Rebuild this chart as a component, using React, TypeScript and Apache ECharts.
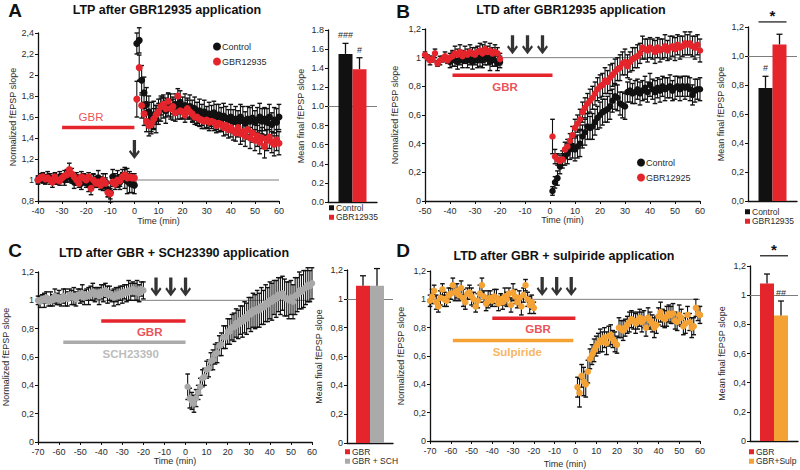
import React, { useEffect, useRef } from "react";
import * as echarts from "echarts";

const minutes = (from: number, to: number): number[] =>
  Array.from({ length: to - from + 1 }, (_, i) => from + i);

// ---------------- Panel A : LTP ----------------
const timesA = minutes(-40, 60);
const ctrlABase = [
  1.00, 1.01, 1.02, 1.00, 1.03, 1.02, 0.99, 1.01, 1.00, 1.03,
  1.02, 1.00, 1.04, 1.03, 1.01, 0.98, 1.02, 1.00, 0.97, 1.01,
  0.99, 0.96, 0.97, 1.00, 0.98, 1.02, 0.97, 0.95, 0.98, 0.91,
  0.88, 1.03, 1.00, 1.01, 0.98, 1.04, 1.02, 0.99, 0.97, 0.96,
  0.95,
];
const ctrlAPost = [
  2.30, 2.33, 1.95, 1.83, 1.72, 1.65, 1.60, 1.62, 1.58, 1.65,
  1.68, 1.70, 1.66, 1.72, 1.70, 1.68, 1.72, 1.70, 1.74, 1.69,
  1.71, 1.68, 1.70, 1.66, 1.68, 1.64, 1.66, 1.62, 1.65, 1.60,
  1.63, 1.61, 1.64, 1.60, 1.62, 1.58, 1.61, 1.59, 1.57, 1.60,
  1.56, 1.58, 1.55, 1.60, 1.57, 1.54, 1.58, 1.56, 1.59, 1.55,
  1.57, 1.60, 1.56, 1.58, 1.55, 1.60, 1.53, 1.57, 1.55, 1.60,
];
const ctrlAErrBase = [
  0.04, 0.03, 0.05, 0.04, 0.05, 0.04, 0.03, 0.05, 0.04, 0.05,
  0.04, 0.05, 0.06, 0.05, 0.04, 0.06, 0.05, 0.04, 0.06, 0.05,
  0.06, 0.07, 0.05, 0.06, 0.05, 0.07, 0.06, 0.05, 0.08, 0.07,
  0.09, 0.07, 0.06, 0.08, 0.07, 0.06, 0.10, 0.12, 0.09, 0.08,
  0.08,
];
const ctrlAErrPost = [
  0.10, 0.12, 0.14, 0.15, 0.16, 0.15, 0.14, 0.13, 0.13, 0.12,
  0.12, 0.11, 0.12, 0.11, 0.12, 0.11, 0.10, 0.12, 0.11, 0.10,
  0.11, 0.10, 0.11, 0.10, 0.11, 0.10, 0.11, 0.10, 0.11, 0.10,
  0.11, 0.10, 0.11, 0.12, 0.10, 0.11, 0.12, 0.11, 0.10, 0.12,
  0.11, 0.12, 0.11, 0.12, 0.13, 0.11, 0.12, 0.13, 0.12, 0.11,
  0.12, 0.13, 0.12, 0.11, 0.13, 0.12, 0.11, 0.12, 0.13, 0.12,
];
const gbrABase = [
  1.00, 1.02, 1.03, 1.01, 1.02, 1.00, 0.98, 1.03, 1.00, 0.99,
  1.02, 1.04, 1.05, 1.10, 1.06, 1.03, 1.00, 0.97, 1.03, 1.02,
  1.00, 1.03, 0.92, 1.00, 0.97, 0.98, 0.95, 1.00, 0.97, 0.88,
  0.87, 0.98, 0.96, 1.00, 0.99, 1.03, 1.05, 1.02, 1.03, 1.02,
  1.02,
];
const gbrAPost = [
  1.77, 2.07, 1.71, 1.63, 1.56, 1.52, 1.53, 1.58, 1.62, 1.65,
  1.70, 1.72, 1.68, 1.75, 1.68, 1.70, 1.64, 1.80, 1.66, 1.65,
  1.62, 1.68, 1.65, 1.63, 1.60, 1.60, 1.58, 1.57, 1.56, 1.57,
  1.55, 1.56, 1.55, 1.52, 1.54, 1.53, 1.50, 1.52, 1.48, 1.50,
  1.47, 1.45, 1.50, 1.44, 1.46, 1.42, 1.48, 1.40, 1.45, 1.38,
  1.42, 1.36, 1.40, 1.32, 1.38, 1.41, 1.36, 1.34, 1.38, 1.35,
];
const gbrAErrBase = [
  0.03, 0.04, 0.03, 0.04, 0.03, 0.04, 0.05, 0.04, 0.03, 0.04,
  0.04, 0.05, 0.04, 0.06, 0.05, 0.04, 0.05, 0.04, 0.05, 0.04,
  0.05, 0.04, 0.06, 0.05, 0.04, 0.05, 0.04, 0.06, 0.05, 0.04,
  0.05, 0.04, 0.05, 0.04, 0.05, 0.04, 0.05, 0.04, 0.05, 0.04,
  0.04,
];
const gbrAErrPost = [
  0.17, 0.12, 0.12, 0.11, 0.10, 0.10, 0.09, 0.10, 0.09, 0.08,
  0.08, 0.07, 0.08, 0.07, 0.08, 0.07, 0.08, 0.07, 0.08, 0.07,
  0.07, 0.08, 0.07, 0.08, 0.07, 0.08, 0.07, 0.08, 0.07, 0.08,
  0.08, 0.07, 0.08, 0.07, 0.08, 0.07, 0.08, 0.09, 0.08, 0.09,
  0.09, 0.08, 0.09, 0.10, 0.09, 0.10, 0.09, 0.10, 0.09, 0.10,
  0.10, 0.11, 0.10, 0.11, 0.10, 0.11, 0.10, 0.11, 0.10, 0.11,
];
const refSpanA = [0, 60];
const drugA = { from: -30, to: 0, level: 1.5, labelAt: [-18, 1.6] };
const arrowsA = [0];
const arrowLevelA = 1.29;

// ---------------- Panel B : LTD ----------------
const timesBRed = [...minutes(-50, -20), ...minutes(1, 60)];
const timesBCtrl = [...minutes(-40, -20), ...minutes(1, 60)];
const gbrBBase = [
  1.02, 1.00, 0.98, 0.99, 1.03, 0.96, 0.98, 0.99, 1.01, 0.98,
  1.00, 1.01, 1.03, 1.02, 1.04, 1.01, 1.03, 1.02, 1.04, 1.03,
  1.02, 1.04, 1.05, 1.03, 1.06, 1.04, 1.05, 1.03, 1.04, 1.03,
  0.99,
];
const gbrBPost = [
  0.45, 0.31, 0.29, 0.28, 0.29, 0.36, 0.38, 0.42, 0.46, 0.51,
  0.54, 0.57, 0.62, 0.65, 0.68, 0.70, 0.72, 0.75, 0.78, 0.80,
  0.81, 0.84, 0.83, 0.86, 0.88, 0.90, 0.92, 0.93, 0.96, 0.97,
  0.94, 0.97, 0.99, 1.00, 1.01, 1.03, 1.07, 1.06, 1.05, 1.07,
  1.06, 1.04, 1.07, 1.05, 1.06, 1.08, 1.05, 1.07, 1.08, 1.06,
  1.09, 1.07, 1.08, 1.10, 1.09, 1.10, 1.08, 1.07, 1.09, 1.05,
];
const gbrBErrBase = [
  0.02, 0.02, 0.03, 0.02, 0.03, 0.02, 0.03, 0.02, 0.03, 0.02,
  0.03, 0.04, 0.05, 0.04, 0.05, 0.04, 0.05, 0.04, 0.05, 0.04,
  0.05, 0.04, 0.05, 0.06, 0.05, 0.04, 0.05, 0.04, 0.05, 0.04,
  0.04,
];
const gbrBErrPost = [
  0.12, 0.05, 0.04, 0.04, 0.04, 0.05, 0.05, 0.05, 0.06, 0.06,
  0.06, 0.07, 0.07, 0.07, 0.07, 0.08, 0.08, 0.08, 0.08, 0.08,
  0.08, 0.09, 0.08, 0.09, 0.08, 0.09, 0.08, 0.09, 0.08, 0.09,
  0.08, 0.07, 0.08, 0.07, 0.08, 0.07, 0.08, 0.07, 0.08, 0.07,
  0.07, 0.08, 0.07, 0.08, 0.07, 0.08, 0.07, 0.08, 0.07, 0.08,
  0.07, 0.08, 0.07, 0.08, 0.07, 0.08, 0.07, 0.08, 0.07, 0.08,
];
const ctrlBBase = [
  0.97, 0.99, 0.98, 0.97, 0.99, 0.98, 1.00, 0.98, 0.99, 0.97,
  0.99, 0.98, 1.00, 0.98, 0.99, 1.00, 0.97, 0.99, 0.98, 0.96,
  0.97,
];
const ctrlBPost = [
  0.07, 0.13, 0.16, 0.24, 0.29, 0.31, 0.33, 0.36, 0.38, 0.36,
  0.38, 0.40, 0.45, 0.48, 0.52, 0.51, 0.52, 0.55, 0.58, 0.60,
  0.62, 0.63, 0.64, 0.66, 0.70, 0.73, 0.72, 0.68, 0.67, 0.66,
  0.76, 0.77, 0.75, 0.76, 0.78, 0.75, 0.77, 0.79, 0.76, 0.81,
  0.78, 0.76, 0.79, 0.77, 0.80, 0.78, 0.79, 0.80, 0.77, 0.79,
  0.80, 0.78, 0.80, 0.79, 0.80, 0.78, 0.74, 0.77, 0.78, 0.78,
];
const ctrlBErrBase = [
  0.04, 0.05, 0.04, 0.05, 0.04, 0.05, 0.04, 0.05, 0.04, 0.05,
  0.04, 0.05, 0.06, 0.05, 0.04, 0.05, 0.06, 0.05, 0.04, 0.05,
  0.04,
];
const ctrlBErrPost = [
  0.03, 0.04, 0.05, 0.05, 0.06, 0.06, 0.07, 0.07, 0.08, 0.08,
  0.08, 0.09, 0.08, 0.09, 0.09, 0.08, 0.09, 0.09, 0.08, 0.09,
  0.09, 0.08, 0.09, 0.09, 0.08, 0.09, 0.09, 0.08, 0.09, 0.09,
  0.07, 0.08, 0.07, 0.08, 0.07, 0.08, 0.07, 0.08, 0.07, 0.08,
  0.07, 0.08, 0.07, 0.08, 0.07, 0.08, 0.07, 0.08, 0.07, 0.08,
  0.07, 0.08, 0.07, 0.08, 0.07, 0.08, 0.07, 0.08, 0.07, 0.08,
];
const refSpanB = [-20, 60];
const drugB = { from: -39, to: 1, level: 0.877, labelAt: [-18, 0.795] };
const arrowsB = [-15, -9, -3];
const arrowLevelB = 1.09;

// ---------------- Panel C : GBR + SCH23390 ----------------
const timesC = [...minutes(-70, -20), ...minutes(1, 60)];
const schCBase = [
  1.00, 0.99, 1.01, 1.00, 1.02, 0.99, 1.01, 1.00, 1.03, 1.01,
  1.02, 1.00, 1.03, 1.02, 1.01, 1.04, 1.02, 1.03, 1.01, 1.04,
  1.03, 1.05, 1.02, 1.04, 1.03, 1.05, 1.06, 1.04, 1.05, 1.03,
  1.06, 1.05, 1.07, 1.04, 1.05, 1.03, 1.02, 1.04, 1.03, 1.05,
  1.04, 1.06, 1.05, 1.07, 1.06, 1.08, 1.06, 1.07, 1.05, 1.08,
  1.07,
];
const schCPost = [
  0.39, 0.31, 0.29, 0.27, 0.31, 0.35, 0.39, 0.45, 0.46, 0.51,
  0.52, 0.57, 0.58, 0.62, 0.63, 0.68, 0.69, 0.74, 0.74, 0.78,
  0.78, 0.81, 0.81, 0.84, 0.83, 0.86, 0.85, 0.88, 0.87, 0.91,
  0.90, 0.93, 0.92, 0.94, 0.93, 0.96, 0.95, 0.98, 0.97, 1.00,
  0.99, 1.02, 1.01, 1.04, 1.03, 1.05, 1.02, 1.01, 1.00, 1.02,
  0.99, 1.03, 1.04, 1.07, 1.06, 1.08, 1.09, 1.11, 1.10, 1.12,
];
const schCErrBase = [
  0.03, 0.04, 0.03, 0.05, 0.04, 0.03, 0.05, 0.04, 0.05, 0.04,
  0.05, 0.04, 0.05, 0.06, 0.05, 0.04, 0.05, 0.06, 0.05, 0.04,
  0.05, 0.06, 0.05, 0.04, 0.06, 0.05, 0.06, 0.05, 0.04, 0.06,
  0.05, 0.06, 0.05, 0.06, 0.05, 0.04, 0.06, 0.05, 0.06, 0.05,
  0.06, 0.05, 0.06, 0.07, 0.06, 0.05, 0.06, 0.07, 0.06, 0.05,
  0.06,
];
const schCErrPost = [
  0.09, 0.07, 0.06, 0.06, 0.06, 0.05, 0.06, 0.06, 0.06, 0.06,
  0.06, 0.06, 0.07, 0.07, 0.07, 0.07, 0.08, 0.08, 0.08, 0.09,
  0.09, 0.09, 0.10, 0.10, 0.10, 0.10, 0.11, 0.11, 0.11, 0.11,
  0.12, 0.12, 0.12, 0.13, 0.12, 0.13, 0.12, 0.13, 0.12, 0.13,
  0.13, 0.12, 0.13, 0.12, 0.13, 0.12, 0.13, 0.12, 0.13, 0.12,
  0.12, 0.13, 0.12, 0.13, 0.12, 0.13, 0.12, 0.12, 0.11, 0.11,
];
const refSpanC = [-70, 60];
const drugC1 = { from: -40, to: 0, level: 0.855, labelAt: [-17, 0.78] };
const drugC2 = { from: -58, to: 0, level: 0.705, labelAt: [-26, 0.62] };
const arrowsC = [-14, -7, 0];
const arrowLevelC = 1.095;

// ---------------- Panel D : GBR + sulpiride ----------------
const timesD = [...minutes(-70, -20), ...minutes(1, 60)];
const sulDBase = [
  0.99, 1.02, 1.06, 0.98, 0.95, 1.01, 1.07, 1.00, 0.99, 1.03,
  1.04, 1.10, 1.05, 1.06, 1.03, 1.08, 1.01, 0.98, 1.04, 1.05,
  1.02, 1.00, 0.95, 0.99, 1.04, 1.10, 1.02, 0.97, 1.00, 1.01,
  0.99, 1.02, 1.01, 0.97, 1.00, 0.98, 1.02, 1.00, 1.04, 0.96,
  1.05, 1.02, 0.98, 1.01, 0.95, 1.03, 1.10, 1.00, 0.96, 0.98,
  0.94,
];
const sulDPost = [
  0.38, 0.34, 0.46, 0.42, 0.40, 0.49, 0.58, 0.61, 0.64, 0.67,
  0.69, 0.71, 0.70, 0.73, 0.69, 0.74, 0.75, 0.72, 0.70, 0.68,
  0.80, 0.79, 0.78, 0.80, 0.82, 0.84, 0.86, 0.85, 0.83, 0.85,
  0.87, 0.84, 0.86, 0.80, 0.87, 0.85, 0.83, 0.80, 0.82, 0.88,
  0.91, 0.87, 0.86, 0.88, 0.90, 0.89, 0.90, 0.85, 0.84, 0.89,
  0.87, 0.81, 0.83, 0.89, 0.84, 0.80, 0.81, 0.94, 0.90, 0.89,
];
const sulDErrBase = [
  0.04, 0.05, 0.04, 0.05, 0.04, 0.05, 0.04, 0.05, 0.04, 0.05,
  0.04, 0.05, 0.06, 0.05, 0.04, 0.05, 0.06, 0.05, 0.04, 0.05,
  0.06, 0.05, 0.04, 0.05, 0.06, 0.05, 0.04, 0.05, 0.06, 0.05,
  0.04, 0.05, 0.06, 0.05, 0.04, 0.05, 0.06, 0.05, 0.04, 0.05,
  0.06, 0.05, 0.04, 0.05, 0.06, 0.05, 0.04, 0.05, 0.06, 0.05,
  0.04,
];
const sulDErrPost = [
  0.07, 0.10, 0.08, 0.10, 0.09, 0.08, 0.07, 0.07, 0.08, 0.07,
  0.07, 0.08, 0.07, 0.07, 0.08, 0.07, 0.07, 0.06, 0.07, 0.06,
  0.07, 0.06, 0.07, 0.06, 0.06, 0.07, 0.06, 0.06, 0.07, 0.06,
  0.06, 0.07, 0.06, 0.06, 0.07, 0.06, 0.06, 0.07, 0.06, 0.06,
  0.07, 0.06, 0.06, 0.07, 0.06, 0.06, 0.07, 0.06, 0.06, 0.07,
  0.06, 0.06, 0.07, 0.06, 0.06, 0.07, 0.06, 0.06, 0.05, 0.06,
];
const refSpanD = [-70, 60];
const drugD1 = { from: -40, to: 0, level: 0.866, labelAt: [-18, 0.79] };
const drugD2 = { from: -59, to: -1, level: 0.71, labelAt: [-28, 0.63] };
const arrowsD = [-16, -9, -2];
const arrowLevelD = 1.09;

// ---------------- Bar summaries ----------------
const barNamesA = ["Control", "GBR12935"];
const barMeansA = [1.55, 1.39];
const barErrA = [0.11, 0.12];
const barSigA = ["###", "#"];

const barNamesB = ["Control", "GBR12935"];
const barMeansB = [0.78, 1.08];
const barErrB = [0.08, 0.07];
const barSigB = ["#", ""];

const barNamesC = ["GBR", "GBR + SCH"];
const barMeansC = [1.09, 1.09];
const barErrC = [0.07, 0.12];
const barSigC = ["", ""];

const barNamesD = ["GBR", "GBR+Sulp"];
const barMeansD = [1.08, 0.86];
const barErrD = [0.065, 0.1];
const barSigD = ["", "##"];

// ---------------- styling ----------------
const FONT = '"Liberation Sans", Arial, Helvetica, sans-serif';
const INK = "#111111";
const TXT = "#2b2b2b";
const RED = "#e4252c";
const ORANGE = "#f5a234";
const GREY_DOT = "#a8a8a8";
const GREY_BAR = "#aaaaaa";
const REF = "#7d7d7d";
const ARROW =
  "path://M3.5,0H6.5V11.2L8.6,8.4L10,9.8L5,16L0,9.8L1.4,8.4L3.5,11.2Z";

const commaTrim = (v: number) => String(Math.round(v * 10) / 10).replace(".", ",");
const dotFixed = (v: number) => v.toFixed(1);
const commaFixed = (v: number) => v.toFixed(1).replace(".", ",");

const grids = [
  { left: 38, top: 33, width: 241, height: 168 },
  { left: 328, top: 30, width: 49, height: 172 },
  { left: 425, top: 29, width: 275, height: 172 },
  { left: 748, top: 27, width: 49, height: 174 },
  { left: 38, top: 272, width: 274, height: 170 },
  { left: 347, top: 270, width: 46, height: 173 },
  { left: 430, top: 271, width: 270, height: 170 },
  { left: 750, top: 266, width: 48, height: 175 },
];

const axisLine = { show: true, onZero: false, lineStyle: { color: INK, width: 1.3 } };
const axisTick = { show: true, length: 3, lineStyle: { color: INK, width: 1 } };
const labelStyle = { fontSize: 9, color: TXT, fontFamily: FONT };

const timeAxis = (gi: number, min: number, max: number, nameGap: number) => ({
  type: "value",
  gridIndex: gi,
  min,
  max,
  interval: 10,
  axisLine,
  axisTick,
  axisLabel: { ...labelStyle, margin: 5 },
  splitLine: { show: false },
  name: "Time (min)",
  nameLocation: "middle",
  nameGap,
  nameTextStyle: labelStyle,
});

const catAxis = (gi: number) => ({
  type: "category",
  gridIndex: gi,
  data: [""],
  axisLine,
  axisTick: { show: false },
  axisLabel: { show: false },
});

const valAxis = (
  gi: number,
  min: number,
  max: number,
  formatter: (v: number) => string,
  name: string,
  nameGap: number
) => ({
  type: "value",
  gridIndex: gi,
  min,
  max,
  interval: 0.2,
  axisLine,
  axisTick,
  axisLabel: { ...labelStyle, margin: 4, formatter },
  splitLine: { show: false },
  name,
  nameLocation: "middle",
  nameGap,
  nameTextStyle: labelStyle,
});

const pairs = (times: number[], vals: number[]) => times.map((t, i) => [t, vals[i]]);

const dots = (gi: number, name: string, times: number[], vals: number[], color: string, size = 6.5) => ({
  type: "scatter",
  name,
  xAxisIndex: gi,
  yAxisIndex: gi,
  symbolSize: size,
  itemStyle: { color, opacity: 1 },
  data: pairs(times, vals),
  silent: true,
  z: 4,
});

const errBars = (gi: number, times: number[], vals: number[], errs: number[]) => ({
  type: "custom",
  xAxisIndex: gi,
  yAxisIndex: gi,
  silent: true,
  z: 3,
  data: times.map((t, i) => [t, vals[i], errs[i]]),
  renderItem: (_p: any, api: any) => {
    const x = api.value(0);
    const v = api.value(1);
    const e = api.value(2);
    const a = api.coord([x, v + e]);
    const b = api.coord([x, v - e]);
    const c = 2.3;
    const st = { stroke: INK, lineWidth: 1.1 };
    return {
      type: "group",
      children: [
        { type: "line", shape: { x1: a[0], y1: a[1], x2: b[0], y2: b[1] }, style: st },
        { type: "line", shape: { x1: a[0] - c, y1: a[1], x2: a[0] + c, y2: a[1] }, style: { ...st, lineWidth: 1.4 } },
        { type: "line", shape: { x1: b[0] - c, y1: b[1], x2: b[0] + c, y2: b[1] }, style: { ...st, lineWidth: 1.4 } },
      ],
    };
  },
});

const refLine = (gi: number, span: number[]) => ({
  type: "line",
  xAxisIndex: gi,
  yAxisIndex: gi,
  data: [
    [span[0], 1],
    [span[1], 1],
  ],
  symbol: "none",
  silent: true,
  lineStyle: { color: REF, width: 1 },
  z: 1,
});

const drugBar = (gi: number, d: any, color: string, text: string, bold: boolean) => [
  {
    type: "line",
    xAxisIndex: gi,
    yAxisIndex: gi,
    data: [
      [d.from, d.level],
      [d.to, d.level],
    ],
    symbol: "none",
    silent: true,
    lineStyle: { color, width: 3.5 },
    z: 2,
  },
  {
    type: "scatter",
    xAxisIndex: gi,
    yAxisIndex: gi,
    data: [d.labelAt],
    symbolSize: 1,
    itemStyle: { color: "transparent" },
    silent: true,
    z: 2,
    label: {
      show: true,
      position: "inside",
      formatter: text,
      color,
      fontSize: 11.5,
      fontWeight: bold ? "bold" : "normal",
      fontFamily: FONT,
    },
  },
];

const arrows = (gi: number, times: number[], level: number) => ({
  type: "scatter",
  xAxisIndex: gi,
  yAxisIndex: gi,
  symbol: ARROW,
  symbolSize: [11, 19],
  itemStyle: { color: "#000" },
  data: times.map((t) => [t, level]),
  silent: true,
  z: 5,
});

const barPanel = (
  gi: number,
  names: string[],
  means: number[],
  errs: number[],
  sigs: string[],
  colors: string[],
  bracket: number | null
) => {
  const out: any[] = [];
  names.forEach((n, k) => {
    const side = k === 0 ? -1 : 1;
    out.push({
      type: "bar",
      name: n,
      xAxisIndex: gi,
      yAxisIndex: gi,
      barWidth: 14,
      barGap: "0%",
      data: [means[k]],
      itemStyle: { color: colors[k] },
      silent: true,
      z: 2,
      markLine:
        k === 0
          ? {
              silent: true,
              symbol: ["none", "none"],
              z: 1,
              label: { show: false },
              lineStyle: { color: REF, width: 1, type: "solid" },
              data: [{ yAxis: 1 }],
            }
          : undefined,
    });
    out.push({
      type: "custom",
      xAxisIndex: gi,
      yAxisIndex: gi,
      silent: true,
      z: 3,
      data: [[0, means[k], errs[k]]],
      renderItem: (_p: any, api: any) => {
        const v = api.value(1);
        const e = api.value(2);
        const b = api.coord([0, v]);
        const a = api.coord([0, v + e]);
        const x = b[0] + side * 7;
        const st = { stroke: INK, lineWidth: 1.3 };
        const children: any[] = [
          { type: "line", shape: { x1: x, y1: b[1], x2: x, y2: a[1] }, style: st },
          { type: "line", shape: { x1: x - 3, y1: a[1], x2: x + 3, y2: a[1] }, style: st },
        ];
        if (sigs[k]) {
          children.push({
            type: "text",
            style: {
              text: sigs[k],
              x,
              y: a[1] - 8,
              textAlign: "center",
              textVerticalAlign: "middle",
              fontSize: 9,
              fontFamily: FONT,
              fill: TXT,
            },
          });
        }
        return { type: "group", children };
      },
    });
  });
  if (bracket !== null) {
    out.push({
      type: "custom",
      xAxisIndex: gi,
      yAxisIndex: gi,
      silent: true,
      z: 3,
      data: [[0, bracket]],
      renderItem: (_p: any, api: any) => {
        const c = api.coord([0, api.value(1)]);
        return {
          type: "group",
          children: [
            {
              type: "line",
              shape: { x1: c[0] - 14, y1: c[1], x2: c[0] + 14, y2: c[1] },
              style: { stroke: INK, lineWidth: 1.2 },
            },
            {
              type: "text",
              style: {
                text: "*",
                x: c[0],
                y: c[1] + 1,
                textAlign: "center",
                textVerticalAlign: "bottom",
                fontSize: 15,
                fontWeight: "bold",
                fontFamily: FONT,
                fill: INK,
              },
            },
          ],
        };
      },
    });
  }
  return out;
};

const barLegend = (left: number, top: number, data: string[]) => ({
  show: true,
  selectedMode: false,
  orient: "vertical",
  left,
  top,
  padding: 0,
  icon: "rect",
  itemWidth: 5,
  itemHeight: 5,
  itemGap: 0,
  data,
  textStyle: { fontSize: 8.5, color: TXT, fontFamily: FONT, lineHeight: 9.5, padding: [0, 0, 0, -3] },
});

const dotLegend = (left: number, top: number, data: string[]) => ({
  show: true,
  selectedMode: false,
  orient: "vertical",
  left,
  top,
  padding: 0,
  icon: "circle",
  itemWidth: 8,
  itemHeight: 8,
  itemGap: 4,
  data,
  textStyle: { fontSize: 9, color: TXT, fontFamily: FONT, lineHeight: 11, padding: [0, 0, 0, -4] },
});

const txt = (text: string, x: number, y: number, size: number, align = "center") => ({
  type: "text",
  x,
  y,
  silent: true,
  style: {
    text,
    textAlign: align,
    textVerticalAlign: "middle",
    font: `bold ${size}px ${FONT}`,
    fill: INK,
  },
});

function buildOption() {
  const series: any[] = [
    // A
    refLine(0, refSpanA),
    ...drugBar(0, drugA, RED, "GBR", false),
    errBars(0, timesA, [...ctrlABase, ...ctrlAPost], [...ctrlAErrBase, ...ctrlAErrPost]),
    errBars(0, timesA, [...gbrABase, ...gbrAPost], [...gbrAErrBase, ...gbrAErrPost]),
    dots(0, "Control", timesA, [...ctrlABase, ...ctrlAPost], INK, 7),
    dots(0, "GBR12935", timesA, [...gbrABase, ...gbrAPost], RED, 7),
    arrows(0, arrowsA, arrowLevelA),
    ...barPanel(1, barNamesA, barMeansA, barErrA, barSigA, [INK, RED], null),
    // B
    refLine(2, refSpanB),
    ...drugBar(2, drugB, RED, "GBR", true),
    errBars(2, timesBCtrl, [...ctrlBBase, ...ctrlBPost], [...ctrlBErrBase, ...ctrlBErrPost]),
    errBars(2, timesBRed, [...gbrBBase, ...gbrBPost], [...gbrBErrBase, ...gbrBErrPost]),
    dots(2, "Control", timesBCtrl, [...ctrlBBase, ...ctrlBPost], INK),
    dots(2, "GBR12925", timesBRed, [...gbrBBase, ...gbrBPost], RED),
    arrows(2, arrowsB, arrowLevelB),
    ...barPanel(3, barNamesB, barMeansB, barErrB, barSigB, [INK, RED], 1.235),
    // C
    refLine(4, refSpanC),
    ...drugBar(4, drugC1, RED, "GBR", true),
    ...drugBar(4, drugC2, GREY_BAR, "SCH23390", true),
    errBars(4, timesC, [...schCBase, ...schCPost], [...schCErrBase, ...schCErrPost]),
    dots(4, "GBR + SCH23390", timesC, [...schCBase, ...schCPost], GREY_DOT),
    arrows(4, arrowsC, arrowLevelC),
    ...barPanel(5, barNamesC, barMeansC, barErrC, barSigC, [RED, GREY_BAR], null),
    // D
    refLine(6, refSpanD),
    ...drugBar(6, drugD1, RED, "GBR", true),
    ...drugBar(6, drugD2, ORANGE, "Sulpiride", true),
    errBars(6, timesD, [...sulDBase, ...sulDPost], [...sulDErrBase, ...sulDErrPost]),
    dots(6, "GBR + sulpiride", timesD, [...sulDBase, ...sulDPost], ORANGE),
    arrows(6, arrowsD, arrowLevelD),
    ...barPanel(7, barNamesD, barMeansD, barErrD, barSigD, [RED, ORANGE], 1.27),
  ];

  return {
    animation: false,
    backgroundColor: "#ffffff",
    textStyle: { fontFamily: FONT },
    grid: grids.map((g) => ({ ...g, containLabel: false })),
    xAxis: [
      timeAxis(0, -40, 60, 15),
      catAxis(1),
      timeAxis(2, -50, 60, 14),
      catAxis(3),
      timeAxis(4, -70, 60, 14),
      catAxis(5),
      timeAxis(6, -70, 60, 18),
      catAxis(7),
    ],
    yAxis: [
      valAxis(0, 0.8, 2.4, commaTrim, "Normalized fEPSP slope", 21),
      valAxis(1, 0, 1.8, dotFixed, "Mean final fEPSP slope", 23),
      valAxis(2, 0, 1.2, commaTrim, "Normalized fEPSP slope", 26),
      valAxis(3, 0, 1.2, commaFixed, "Mean final fEPSP slope", 23),
      valAxis(4, 0, 1.2, commaTrim, "Normalized fEPSP slope", 28),
      valAxis(5, 0, 1.2, commaTrim, "Mean final fEPSP slope", 24),
      valAxis(6, 0, 1.2, commaTrim, "Normalized fEPSP slope", 25),
      valAxis(7, 0, 1.2, commaTrim, "Mean final fEPSP slope", 24),
    ],
    legend: [
      dotLegend(213, 41, ["Control", "GBR12935"]),
      dotLegend(637, 157, ["Control", "GBR12925"]),
      barLegend(329, 203, barNamesA),
      barLegend(745, 207, barNamesB),
      barLegend(345, 447, barNamesC),
      barLegend(749, 447, barNamesD),
    ],
    graphic: [
      txt("A", 15, 10, 19),
      txt("LTP after GBR12935 application", 167, 10, 12.5),
      txt("B", 403, 11, 19),
      txt("LTD after GBR12935 application", 571, 10, 12.5),
      txt("C", 15, 250, 19),
      txt("LTD after GBR + SCH23390 application", 174, 253, 12.5),
      txt("D", 403, 250, 19),
      txt("LTD after GBR + sulpiride application", 564, 256, 12.5),
    ],
    series,
  };
}

export default function App() {
  const ref = useRef<HTMLDivElement | null>(null);
  useEffect(() => {
    if (!ref.current) return;
    const chart = echarts.init(ref.current, null, { renderer: "svg" });
    chart.setOption(buildOption() as any);
    return () => chart.dispose();
  }, []);
  return (
    <div
      ref={ref}
      style={{ position: "absolute", left: 0, top: 0, width: 800, height: 470, background: "#fff" }}
    />
  );
}
